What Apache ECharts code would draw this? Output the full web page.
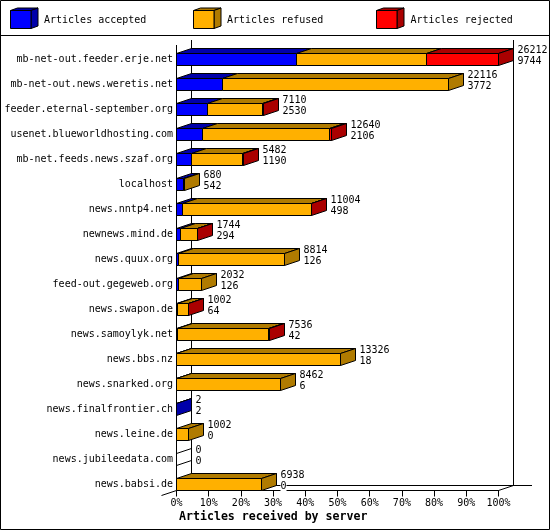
<!DOCTYPE html>
<html><head><meta charset="utf-8">
<style>html,body{margin:0;padding:0;background:#fff}#c{width:550px;height:530px}</style>
<script src="https://cdn.jsdelivr.net/npm/echarts@6/dist/echarts.min.js"></script>
</head><body><div id="c"></div>
<script>
const categories = ["mb-net-out.feeder.erje.net","mb-net-out.news.weretis.net","feeder.eternal-september.org","usenet.blueworldhosting.com","mb-net.feeds.news.szaf.org","localhost","news.nntp4.net","newnews.mind.de","news.quux.org","feed-out.gegeweb.org","news.swapon.de","news.samoylyk.net","news.bbs.nz","news.snarked.org","news.finalfrontier.ch","news.leine.de","news.jubileedata.com","news.babsi.de"];
const totals   = [26212,22116,7110,12640,5482,680,11004,1744,8814,2032,1002,7536,13326,8462,2,1002,0,6938];
const accepted = [9744,3772,2530,2106,1190,542,498,294,126,126,64,42,18,6,2,0,0,0];
const refused  = [10623,18344,4470,10344,4162,138,10476,1390,8688,1906,908,7464,13308,8456,0,1002,0,6938];
const rejected = [5845,0,110,190,130,0,30,60,0,0,30,30,0,0,0,0,0,0];
const tickPct  = 10;
const legendNames = ["Articles accepted","Articles refused","Articles rejected"];
const axisTitle = "Articles received by server";

const front = ["#0000ff","#ffb000","#ff0000"];
const dark  = ["#0000aa","#b07b00","#aa0000"];
const mono = '"DejaVu Sans Mono","Liberation Mono",monospace';
const DX = 15, DY = 5;
const maxTotal = Math.max(...totals);
const pct = v => v * 100 / maxTotal;
const crisp = v => Math.floor(v) + 0.5;

function poly(points, fill){
  return {type:'polygon', shape:{points}, style:{fill, stroke:'#000', lineWidth:1}};
}
function makeData(k){
  return categories.map((c,i)=>{
    const s = [accepted,refused,rejected];
    let start = 0; for(let j=0;j<k;j++) start += s[j][i];
    return [pct(start), pct(start + s[k][i]), i, s[k][i]];
  });
}
function renderSeg(k){
  return function(params, api){
    const i = api.value(2);
    const a = api.coord([api.value(0), i]);
    const b = api.coord([api.value(1), i]);
    const half = api.size([0,1])[1] * 0.24;
    const x0 = crisp(a[0]), x1 = crisp(b[0]);
    const yT = crisp(a[1]-half), yB = yT + 2*half;
    const v = [accepted[i],refused[i],rejected[i]];
    const children = [];
    const isLast = (k===2 ? v[2]>0 : (k===1 ? v[1]>0 && v[2]===0 : v[0]>0 && v[1]===0 && v[2]===0));
    if (v[k] > 0) {
      children.push(poly([[x0,yT],[x0+DX,yT-DY],[x1+DX,yT-DY],[x1,yT]], dark[k]));
      children.push(poly([[x0,yT],[x1,yT],[x1,yB],[x0,yB]], front[k]));
    }
    if (isLast) children.push(poly([[x1,yT],[x1+DX,yT-DY],[x1+DX,yB-DY],[x1,yB]], dark[k]));
    if (k===0 && totals[i]===0) {
      children.push({type:'line',shape:{x1:x0,y1:yT,x2:x0+DX,y2:yT-DY},style:{stroke:'#000',lineWidth:1}});
      children.push({type:'line',shape:{x1:x0,y1:yB,x2:x0+DX,y2:yB-DY},style:{stroke:'#000',lineWidth:1}});
    }
    return {type:'group',children};
  };
}
function renderLabel(params, api){
  const i = api.value(1);
  const p = api.coord([api.value(0), i]);
  const x = crisp(p[0]) + DX + 4;
  const mk = (text,y)=>({type:'text',style:{text:String(text),x,y,fill:'#000',font:'10px '+mono,
     textVerticalAlign:'middle',backgroundColor:'#fff'}});
  return {type:'group',children:[mk(totals[i],p[1]-9.5),mk(accepted[i],p[1]+1.5)]};
}

const series = [0,1,2].map(k=>({
  type:'custom', name:legendNames[k], coordinateSystem:'cartesian2d',
  data:makeData(k), encode:{x:[0,1],y:2}, renderItem:renderSeg(k), z:3+k, silent:true, animation:false
}));
series.push({type:'custom', name:'labels', coordinateSystem:'cartesian2d',
  data:totals.map((t,i)=>[pct(t),i]), encode:{x:0,y:1}, renderItem:renderLabel, z:8, silent:true, animation:false});

const line = (x1,y1,x2,y2)=>({type:'line',shape:{x1,y1,x2,y2},style:{stroke:'#000',lineWidth:1},z:1});
const graphics = [
  {type:'rect',shape:{x:0.5,y:0.5,width:549,height:529},style:{fill:null,stroke:'#000',lineWidth:1},z:0},
  line(0,35.5,550,35.5),
  line(176.5,45,176.5,490.5),
  line(191.5,40,191.5,485.5),
  line(513.5,40,513.5,485.5),
  line(191.5,485.5,532,485.5),
  line(161.5,495.5,176.5,490.5),
  line(498.5,490.5,513.5,485.5)
];
[[10.5,44],[193.5,227],[376.5,410.5]].forEach((l,k)=>{
  const x=l[0], y=10.5, w=20.5, h=18, dx=7, dy=2.5;
  const xr = x+w;
  graphics.push({type:'polygon',shape:{points:[[x,y],[x+dx,y-dy],[xr+dx,y-dy],[xr,y]]},style:{fill:dark[k],stroke:'#000'},z:2});
  graphics.push({type:'polygon',shape:{points:[[xr,y],[xr+dx,y-dy],[xr+dx,y+h-dy],[xr,y+h]]},style:{fill:dark[k],stroke:'#000'},z:2});
  graphics.push({type:'rect',shape:{x,y,width:w,height:h},style:{fill:front[k],stroke:'#000'},z:2});
  graphics.push({type:'text',style:{text:legendNames[k],x:l[1],y:20,fill:'#000',font:'10px '+mono,textVerticalAlign:'middle'},z:2});
});

const chart = echarts.init(document.getElementById('c'),null,{renderer:'canvas'});
chart.setOption({
  animation:false,
  backgroundColor:'#fff',
  title:{text:axisTitle,left:179,top:511,padding:0,textStyle:{fontFamily:'"DejaVu Sans Mono",monospace',fontWeight:'bold',fontSize:11.6,color:'#000'}},
  grid:[
    {left:176.5,top:47,width:322,height:450,containLabel:false,outerBoundsMode:'none'},
    {left:176.5,top:489.5,width:322,height:1,containLabel:false,outerBoundsMode:'none'}
  ],
  xAxis:[
    {type:'value',gridIndex:0,min:0,max:100,interval:tickPct,show:false},
    {type:'value',gridIndex:1,min:0,max:100,interval:tickPct,z:2,
     axisLine:{show:true,onZero:false,lineStyle:{color:'#000',width:1}},
     axisTick:{show:true,length:6,lineStyle:{color:'#000',width:1}},
     axisLabel:{show:true,margin:8,color:'#000',fontFamily:mono,fontSize:10,formatter:v=>v+'%',hideOverlap:false,showMinLabel:true,showMaxLabel:true},
     splitLine:{show:false}}
  ],
  yAxis:[
    {type:'category',gridIndex:0,inverse:true,data:categories,
     axisLine:{show:false},axisTick:{show:false},
     axisLabel:{interval:0,margin:3.5,color:'#000',fontFamily:mono,fontSize:10},
     splitLine:{show:false}},
    {type:'value',gridIndex:1,show:false,min:0,max:1}
  ],
  graphic:{elements:graphics},
  series
});
</script></body></html>
